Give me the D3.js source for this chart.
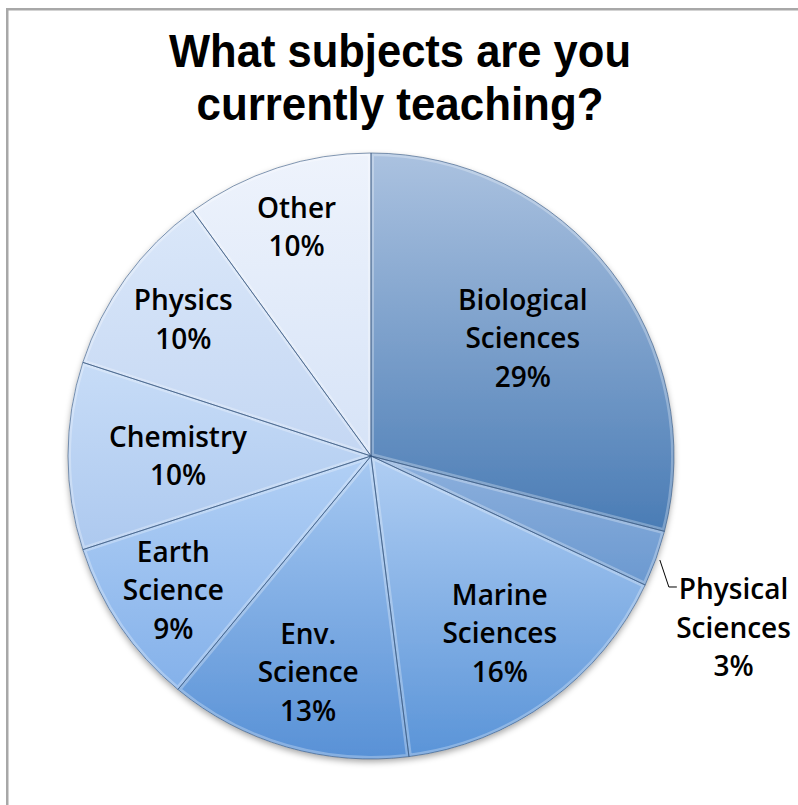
<!DOCTYPE html>
<html>
<head>
<meta charset="utf-8">
<script src="https://cdn.jsdelivr.net/npm/d3@7"></script>
<style>
  body { margin: 0; background: #fff; }
  svg { display: block; }
</style>
</head>
<body>
<div id="chart"></div>
<script>
/* global d3 */

// data
const categories = ['Biological Sciences', 'Physical Sciences', 'Marine Sciences', 'Env. Science',
  'Earth Science', 'Chemistry', 'Physics', 'Other'];
const values = [29, 3, 16, 13, 9, 10, 10, 10];
const labelLines = [['Biological', 'Sciences'], ['Physical', 'Sciences'], ['Marine', 'Sciences'],
  ['Env.', 'Science'], ['Earth', 'Science'], ['Chemistry'], ['Physics'], ['Other']];
const titleLines = ['What subjects are you', 'currently teaching?'];

// style: top / bottom gradient colour per slice
const sliceTop = ['#abc2e0', '#8db0dd', '#b0cef3', '#a7c9f2', '#b2d0f5', '#c7dcf7', '#dae7f9', '#eef3fc'];
const sliceBottom = ['#4a7cb5', '#6b99d0', '#5a94d8', '#5891d6', '#84b1ea', '#adc9ef', '#c4d7f3', '#d6e3f7'];
// how far out (fraction of radius) each inside label sits; null = outside with leader
const labelRadius = {
  'Biological Sciences': 0.634,
  'Physical Sciences': null,
  'Marine Sciences': 0.723,
  'Env. Science': 0.743,
  'Earth Science': 0.789,
  Chemistry: 0.637,
  Physics: 0.766,
  Other: 0.795,
};

const width = 798;
const height = 805;
const cx = 371;
const cy = 456;
const radius = 303;
const lineGap = 38.5;

const svg = d3.select('#chart').append('svg')
  .attr('width', width)
  .attr('height', height);

const defs = svg.append('defs');

// soft shadow under the pie
const shadow = defs.append('filter')
  .attr('id', 'shadow')
  .attr('x', '-10%').attr('y', '-10%')
  .attr('width', '120%').attr('height', '125%');
shadow.append('feGaussianBlur').attr('in', 'SourceAlpha').attr('stdDeviation', 3).attr('result', 'blur');
shadow.append('feOffset').attr('in', 'blur').attr('dy', 3).attr('result', 'off');
shadow.append('feFlood').attr('flood-color', '#000').attr('flood-opacity', 0.35);
shadow.append('feComposite').attr('in2', 'off').attr('operator', 'in').attr('result', 'sh');
const merge = shadow.append('feMerge');
merge.append('feMergeNode').attr('in', 'sh');
merge.append('feMergeNode').attr('in', 'SourceGraphic');

// frame (right / bottom run off the picture)
svg.append('rect')
  .attr('x', 7.25)
  .attr('y', 9.25)
  .attr('width', 1000)
  .attr('height', 1000)
  .attr('fill', 'none')
  .attr('stroke', '#a8a8a8')
  .attr('stroke-width', 2.5);

// title
const title = svg.append('g')
  .attr('font-family', '"Liberation Sans", Arial, sans-serif')
  .attr('font-weight', 700)
  .attr('font-size', 46.5)
  .attr('fill', '#000');
const titleWidths = [462, 407];
title.selectAll('text')
  .data(titleLines)
  .enter().append('text')
  .attr('x', 400)
  .attr('y', (d, i) => 67 + i * 53)
  .attr('text-anchor', 'middle')
  .attr('textLength', (d, i) => titleWidths[i])
  .attr('lengthAdjust', 'spacingAndGlyphs')
  .text(d => d);

// pie
const slices = categories.map((c, i) => ({ name: c, value: values[i], lines: labelLines[i], i }));
const pie = d3.pie()
  .sort(null)
  .value(d => d.value);
const arcs = pie(slices);
const arc = d3.arc().innerRadius(0).outerRadius(radius);

arcs.forEach((a, i) => {
  const grad = defs.append('linearGradient')
    .attr('id', `g${i}`)
    .attr('x1', 0).attr('y1', 0)
    .attr('x2', 0).attr('y2', 1);
  grad.append('stop').attr('offset', '0%').attr('stop-color', sliceTop[i]);
  grad.append('stop').attr('offset', '100%').attr('stop-color', sliceBottom[i]);
  defs.append('clipPath')
    .attr('id', `c${i}`)
    .append('path')
    .attr('d', arc(a));
});

const pieG = svg.append('g')
  .attr('transform', `translate(${cx},${cy})`);

const body = pieG.append('g').attr('filter', 'url(#shadow)');
body.selectAll('path.slice')
  .data(arcs)
  .enter().append('path')
  .attr('class', 'slice')
  .attr('d', arc)
  .attr('fill', (d, i) => `url(#g${i})`);

// bevel: light inner edge on each slice
pieG.selectAll('path.bevel')
  .data(arcs)
  .enter().append('path')
  .attr('class', 'bevel')
  .attr('d', arc)
  .attr('clip-path', (d, i) => `url(#c${i})`)
  .attr('fill', 'none')
  .attr('stroke', '#fff')
  .attr('stroke-opacity', 0.28)
  .attr('stroke-width', 6)
  .attr('stroke-linejoin', 'round');

// thin dark separators
pieG.selectAll('path.edge')
  .data(arcs)
  .enter().append('path')
  .attr('class', 'edge')
  .attr('d', arc)
  .attr('fill', 'none')
  .attr('stroke', '#34557f')
  .attr('stroke-opacity', 0.6)
  .attr('stroke-width', 1);

// labels
const labels = pieG.append('g')
  .attr('font-family', '"Open Sans", sans-serif')
  .attr('font-weight', 600)
  .attr('font-size', 28)
  .attr('fill', '#000')
  .attr('text-anchor', 'middle');

function labelBlock(g, d, x, y) {
  const rows = d.data.lines.concat([`${d.data.value}%`]);
  const top = y - ((rows.length - 1) * lineGap) / 2;
  rows.forEach((r, k) => {
    g.append('text')
      .attr('x', x)
      .attr('y', top + k * lineGap)
      .attr('dy', '0.36em')
      .text(r);
  });
}

arcs.forEach((d) => {
  const mid = (d.startAngle + d.endAngle) / 2;
  const f = labelRadius[d.data.name];
  if (f !== null) {
    labelBlock(labels, d, Math.sin(mid) * radius * f, -Math.cos(mid) * radius * f);
    return;
  }
  // outside label with elbow leader
  const p0 = [Math.sin(mid) * (radius + 4), -Math.cos(mid) * (radius + 4)];
  const p1 = [p0[0] + 9, p0[1] + 27];
  const p2 = [p1[0] + 8, p1[1]];
  pieG.append('path')
    .attr('d', d3.line()([p0, p1, p2]))
    .attr('fill', 'none')
    .attr('stroke', '#000')
    .attr('stroke-width', 1);
  const probe = labels.append('text').text(d.data.lines[0]);
  const w = probe.node().getComputedTextLength();
  probe.remove();
  labelBlock(labels, d, p2[0] + 2 + w / 2, p1[1] + 2 + lineGap);
});
</script>
</body>
</html>
